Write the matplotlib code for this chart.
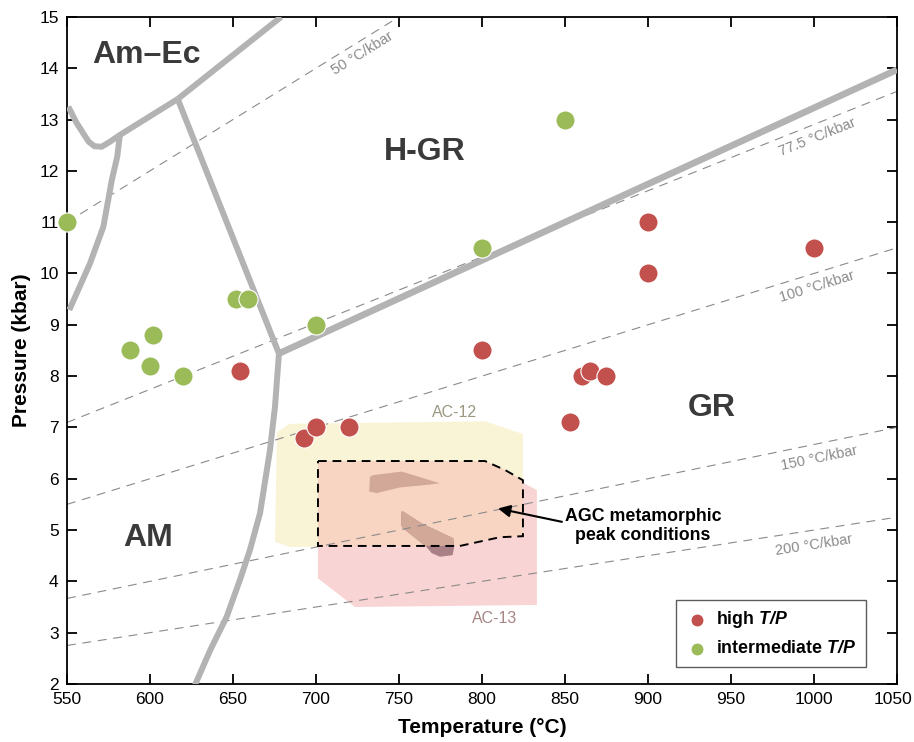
import numpy as np
import matplotlib.pyplot as plt
from matplotlib.patches import Polygon

plt.rcParams['font.family'] = ['Liberation Sans', 'DejaVu Sans']
plt.rcParams['mathtext.fontset'] = 'custom'
plt.rcParams['mathtext.bfit'] = 'Liberation Sans:bold:italic'
plt.rcParams['mathtext.it'] = 'Liberation Sans:italic'
plt.rcParams['mathtext.bf'] = 'Liberation Sans:bold'

# samples: temperature (°C), pressure (kbar)
high_T = [654, 693, 700, 720, 800, 853, 860, 865, 875, 900, 900, 1000]
high_P = [8.1, 6.8, 7.0, 7.0, 8.5, 7.1, 8.0, 8.1, 8.0, 11.0, 10.0, 10.5]
mid_T = [550, 588, 600, 602, 620, 652, 659, 700, 800, 850]
mid_P = [11.0, 8.5, 8.2, 8.8, 8.0, 9.5, 9.5, 9.0, 10.5, 13.0]

x_ticks = [550, 600, 650, 700, 750, 800, 850, 900, 950, 1000, 1050]
y_ticks = list(range(2, 16))

# geotherms (°C/kbar) and where their labels sit
geotherms = [50, 77.5, 100, 150, 200]
geo_label_T = [728, 1002, 1002, 1003, 1000]
geo_label_P = [14.29, 12.66, 9.74, 6.40, 4.71]

# facies boundaries
b_top = [(616.7, 13.4), (679, 15.0)]
b_amec = [(550.8, 13.25), (555.5, 12.95), (559.8, 12.73), (563, 12.57),
          (566.5, 12.48), (570.9, 12.47), (576, 12.57), (581.9, 12.7), (616.7, 13.4)]
b_amec_low = [(581.9, 12.72), (580.3, 12.28), (577, 11.82), (571.9, 10.91),
              (563.9, 10.2), (551.4, 9.29)]
b_mid = [(616.7, 13.4), (677.7, 8.44)]
b_hgr = [(677.7, 8.44), (1050, 13.97)]
b_am = [(677.7, 8.44), (675.3, 7.40), (672.3, 6.56), (666.3, 5.33),
        (660.2, 4.61), (654.2, 4.03), (646.2, 3.31), (636.3, 2.66), (627.1, 1.98)]

# P-T fields
ac12 = [(676.5, 6.91), (684.3, 7.07), (801.8, 7.12), (824.7, 6.87),
        (824.7, 4.71), (684.3, 4.67), (675.3, 4.77)]
ac13 = [(701.2, 6.345), (801.8, 6.345), (824.7, 5.92), (833.1, 5.78),
        (833.1, 3.54), (723.5, 3.50), (701.2, 4.06)]
peak_box = [(701.2, 6.345), (801.8, 6.345), (813.9, 6.17), (824.7, 5.97),
            (824.7, 4.88), (810.8, 4.86), (786.7, 4.69), (701.2, 4.69)]
blob1 = [(732.5, 6.04), (734.5, 6.07), (751.6, 6.14), (774.7, 5.91),
         (766.7, 5.88), (750.6, 5.83), (736.6, 5.72), (732.1, 5.75)]
blob2 = [(751.6, 5.36), (752.6, 5.36), (763.7, 5.13), (782.7, 4.84),
         (783.3, 4.67), (782.3, 4.51), (774.7, 4.48), (769.7, 4.55),
         (766.6, 4.67), (752.6, 5.03), (751.2, 5.10)]

fig = plt.figure(figsize=(9.14, 7.42), dpi=100)
ax = fig.add_axes([0.0733, 0.0782, 0.908, 0.899])
ax.set_xlim(550, 1050)
ax.set_ylim(2, 15)

# fields
ax.add_patch(Polygon(ac12, closed=True, fc='#faf4d6', ec='none', zorder=1))
ax.add_patch(Polygon(ac13, closed=True, fc='#f9d4d4', ec='none', zorder=1.2))
overlap = Polygon(peak_box, closed=True, fc='#f8d5c3', ec='none', zorder=1.4)
ax.add_patch(overlap)
ax.add_patch(Polygon(blob1, closed=True, fc='#d2a898', ec='none', zorder=1.6))
ax.add_patch(Polygon(blob2, closed=True, fc='#a88085', ec='none', zorder=1.6))
inner = Polygon(blob2, closed=True, fc='#d2a898', ec='none', zorder=1.7)
ax.add_patch(inner)
inner.set_clip_path(overlap)
ax.add_patch(Polygon(peak_box, closed=True, fill=False, ec='black', lw=1.4,
                     ls=(0, (4.5, 3)), zorder=3))
ax.text(783.7, 7.30, 'AC-12', color='#9b9780', fontsize=11.5, ha='center', va='center')
ax.text(807.8, 3.28, 'AC-13', color='#a68585', fontsize=11.5, ha='center', va='center')

# geotherms
tt = np.array([550, 1050])
for g, lx, ly in zip(geotherms, geo_label_T, geo_label_P):
    ax.plot(tt, tt / g, color='#8a8a8a', lw=0.8, ls=(0, (8, 6)), zorder=2.5)
    ang = np.degrees(np.arctan(1 / g))
    ax.text(lx, ly, f'{g:g} °C/kbar', color='#8a8a8a', fontsize=10.5,
            rotation=ang, transform_rotates_text=True, rotation_mode='anchor',
            ha='center', va='center')

# boundaries
for seg, w in [(b_top, 4.3), (b_amec, 4.3), (b_amec_low, 4.3), (b_mid, 4.3),
               (b_hgr, 4.8), (b_am, 4.3)]:
    xs, ys = zip(*seg)
    ax.plot(xs, ys, color='#b3b3b3', lw=w, solid_capstyle='butt',
            solid_joinstyle='round', zorder=4)

# facies labels
for s, x, y in [('Am–Ec', 598, 14.26), ('H-GR', 765.7, 12.37),
                ('GR', 938.6, 7.38), ('AM', 598.8, 4.84)]:
    ax.text(x, y, s, fontsize=23, fontweight='bold', color='#3a3a3a',
            ha='center', va='center', zorder=5)

# samples
ax.scatter(high_T, high_P, s=190, color='#c2504d', edgecolor='white', lw=0.8,
           zorder=6, clip_on=False, label=r'high $\mathbfit{T/P}$')
ax.scatter(mid_T, mid_P, s=190, color='#9bbb59', edgecolor='white', lw=0.8,
           zorder=6, clip_on=False, label=r'intermediate $\mathbfit{T/P}$')

ax.annotate('AGC metamorphic\npeak conditions', xy=(809.7, 5.42), xytext=(897, 5.08),
            ha='center', va='center', fontsize=12.8, fontweight='bold',
            linespacing=1.1,
            arrowprops=dict(arrowstyle='-|>', color='black', lw=1.5,
                            mutation_scale=18, shrinkA=0, shrinkB=0,
                            relpos=(0, 0.6)),
            zorder=7)

leg = ax.legend(loc='lower right', bbox_to_anchor=(0.9627, 0.0255), borderaxespad=0,
                markerscale=0.68, frameon=True, fancybox=False, edgecolor='#333333',
                prop={'weight': 'bold', 'size': 12.8}, handletextpad=0.4,
                borderpad=0.55, labelspacing=0.55, handlelength=1.3)
leg.get_frame().set_linewidth(1.0)
leg.set_zorder(8)

ax.set_xticks(x_ticks)
ax.set_xticklabels([str(v) for v in x_ticks[:-1]] + [''])
ax.set_yticks(y_ticks)
ax.tick_params(direction='in', length=7, width=1.3, top=True, right=True,
               labelsize=12.5, pad=6)
# last x label nudged left so it stays inside the figure
ax.annotate(str(x_ticks[-1]), xy=(x_ticks[-1], 0), xycoords=('data', 'axes fraction'),
            xytext=(-2.6, -6), textcoords='offset points', ha='center', va='top',
            fontsize=12.5, annotation_clip=False)
for sp in ax.spines.values():
    sp.set_linewidth(1.3)
ax.set_xlabel('Temperature (°C)', fontsize=15, fontweight='bold', labelpad=8)
ax.set_ylabel('Pressure (kbar)', fontsize=15, fontweight='bold', labelpad=6)

fig.savefig('out.png', dpi=100)
